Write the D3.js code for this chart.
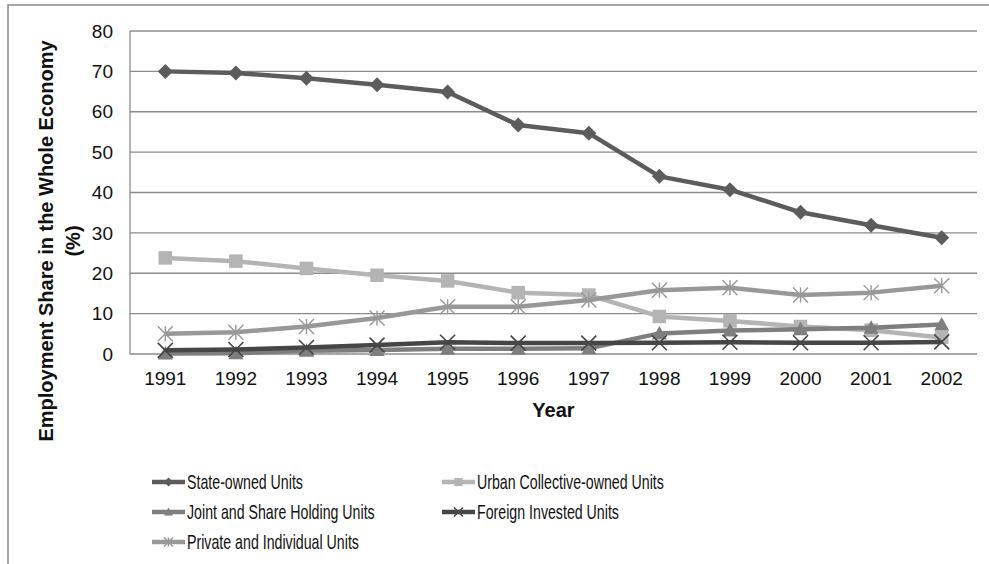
<!DOCTYPE html>
<html>
<head>
<meta charset="utf-8">
<script src="https://cdn.jsdelivr.net/npm/d3@7"></script>
<style>
  body { margin: 0; background: #fff; }
  svg { font-family: "Liberation Sans", Arial, sans-serif; }
</style>
</head>
<body>
<div id="plot"></div>
<script>
var years = ["1991","1992","1993","1994","1995","1996","1997","1998","1999","2000","2001","2002"];
var stateOwned = [70.0, 69.6, 68.3, 66.7, 64.9, 56.7, 54.7, 44.0, 40.7, 35.1, 31.9, 28.8];
var urbanCollective = [23.8, 23.0, 21.2, 19.5, 18.1, 15.2, 14.6, 9.3, 8.2, 6.8, 5.9, 4.1];
var jointShare = [0.1, 0.2, 0.8, 1.0, 1.3, 1.3, 1.4, 5.1, 5.8, 6.1, 6.5, 7.3];
var foreignInvested = [0.9, 1.1, 1.6, 2.2, 2.9, 2.7, 2.7, 2.8, 2.9, 2.8, 2.8, 3.0];
var privateIndividual = [5.0, 5.4, 6.8, 8.9, 11.7, 11.7, 13.4, 15.8, 16.4, 14.6, 15.2, 16.9];
var yTicks = [0, 10, 20, 30, 40, 50, 60, 70, 80];

var series = [
  {name: "State-owned Units", values: stateOwned, color: "#5c5c5c", marker: "diamond"},
  {name: "Urban Collective-owned Units", values: urbanCollective, color: "#b4b4b4", marker: "square"},
  {name: "Joint and Share Holding Units", values: jointShare, color: "#7e7e7e", marker: "triangle"},
  {name: "Foreign Invested Units", values: foreignInvested, color: "#464646", marker: "x"},
  {name: "Private and Individual Units", values: privateIndividual, color: "#989898", marker: "star"}
];

var width = 989, height = 564;
var plotLeft = 130, plotRight = 977, plotTop = 31, plotBottom = 354;

var svg = d3.select("#plot").append("svg")
  .attr("width", width).attr("height", height);

// outer frame
svg.append("path")
  .attr("d", "M8," + (height + 2) + "V5H" + (width + 2))
  .attr("fill", "none").attr("stroke", "#8a8a8a").attr("stroke-width", 1.5);

var x = d3.scalePoint().domain(years).range([plotLeft, plotRight]).padding(0.5);
var y = d3.scaleLinear().domain([0, 80]).range([plotBottom, plotTop]);

// gridlines
svg.append("g").selectAll("line").data(yTicks).enter().append("line")
  .attr("x1", plotLeft).attr("x2", plotRight)
  .attr("y1", function (d) {return y(d);}).attr("y2", function (d) {return y(d);})
  .attr("stroke", "#8c8c8c").attr("stroke-width", 1.3);

svg.append("line")
  .attr("x1", plotLeft).attr("x2", plotLeft).attr("y1", plotTop).attr("y2", plotBottom)
  .attr("stroke", "#8c8c8c").attr("stroke-width", 1.3);

// y tick labels
svg.append("g").selectAll("text").data(yTicks).enter().append("text")
  .attr("x", 113).attr("y", function (d) {return y(d);})
  .attr("dy", "0.35em").attr("text-anchor", "end")
  .attr("font-size", 19).attr("fill", "#111")
  .text(function (d) {return d;});

// x tick labels
svg.append("g").selectAll("text").data(years).enter().append("text")
  .attr("x", function (d) {return x(d);}).attr("y", 385)
  .attr("text-anchor", "middle")
  .attr("font-size", 19).attr("fill", "#111")
  .text(function (d) {return d;});

svg.append("text")
  .attr("x", (plotLeft + plotRight) / 2).attr("y", 417)
  .attr("text-anchor", "middle").attr("font-size", 20).attr("font-weight", "bold")
  .attr("fill", "#111").text("Year");

var yTitle = svg.append("text")
  .attr("transform", "translate(53,241) rotate(-90)")
  .attr("text-anchor", "middle").attr("font-size", 20).attr("font-weight", "bold")
  .attr("fill", "#111");
yTitle.append("tspan").attr("x", 0).attr("y", 0).text("Employment Share in the Whole Economy");
yTitle.append("tspan").attr("x", 0).attr("y", 27).text("(%)");

function drawMarker(g, type, color, s) {
  var h = s / 2;
  if (type === "diamond") {
    g.append("path").attr("d", "M0," + (-h) + "L" + h + ",0L0," + h + "L" + (-h) + ",0Z").attr("fill", color);
  } else if (type === "square") {
    g.append("rect").attr("x", -h * 0.9).attr("y", -h * 0.9).attr("width", s * 0.9).attr("height", s * 0.9).attr("fill", color);
  } else if (type === "triangle") {
    g.append("path").attr("d", "M0," + (-h) + "L" + h + "," + (h * 0.8) + "L" + (-h) + "," + (h * 0.8) + "Z").attr("fill", color);
  } else if (type === "x") {
    g.append("path").attr("d", "M" + (-h) + "," + (-h) + "L" + h + "," + h + "M" + h + "," + (-h) + "L" + (-h) + "," + h)
      .attr("stroke", color).attr("stroke-width", 1.6).attr("fill", "none");
  } else if (type === "star") {
    g.append("path").attr("d", "M" + (-h) + "," + (-h) + "L" + h + "," + h + "M" + h + "," + (-h) + "L" + (-h) + "," + h + "M0," + (-h) + "V" + h)
      .attr("stroke", color).attr("stroke-width", 1.4).attr("fill", "none");
  }
}

var line = d3.line()
  .x(function (d, i) {return x(years[i]);})
  .y(function (d) {return y(d);});

series.forEach(function (s) {
  var g = svg.append("g").attr("class", "series");
  g.append("path").attr("d", line(s.values))
    .attr("fill", "none").attr("stroke", s.color).attr("stroke-width", 4.5)
    .attr("stroke-linejoin", "round");
  s.values.forEach(function (v, i) {
    var m = g.append("g").attr("transform", "translate(" + x(years[i]) + "," + y(v) + ")");
    drawMarker(m, s.marker, s.color, 15);
  });
});

// legend
var legendPos = [[152, 482], [442, 482], [152, 512], [442, 512], [152, 542]];
series.forEach(function (s, i) {
  var g = svg.append("g").attr("transform", "translate(" + legendPos[i][0] + "," + legendPos[i][1] + ")");
  g.append("line").attr("x1", 0).attr("x2", 33).attr("y1", 0).attr("y2", 0)
    .attr("stroke", s.color).attr("stroke-width", 4.5);
  var m = g.append("g").attr("transform", "translate(16.5,0)");
  drawMarker(m, s.marker, s.color, 9);
  g.append("text").attr("transform", "translate(35,0) scale(0.71,1)")
    .attr("dy", "0.35em").attr("font-size", 20).attr("fill", "#111")
    .text(s.name);
});
</script>
</body>
</html>
